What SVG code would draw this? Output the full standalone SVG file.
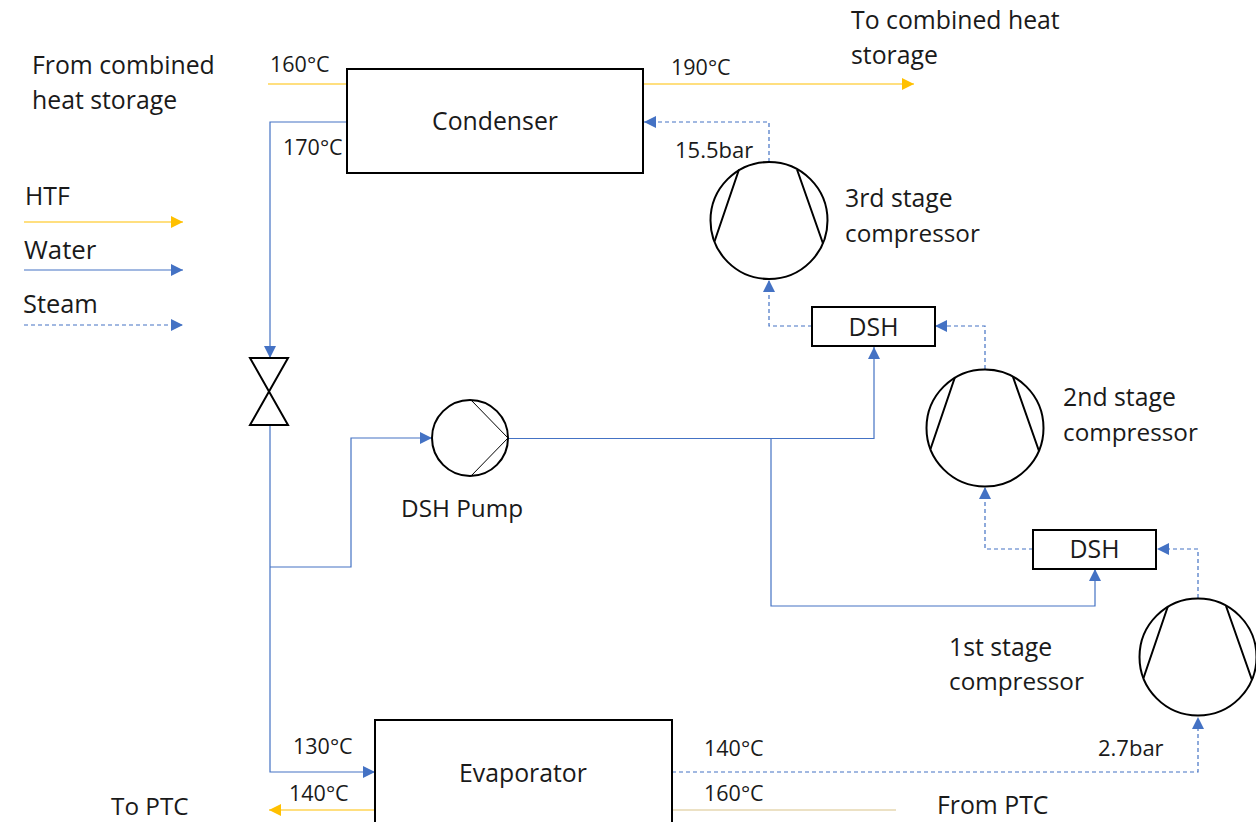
<svg xmlns="http://www.w3.org/2000/svg" width="1256" height="822" viewBox="0 0 1256 822">
<style>
text{font-family:"Open Sans","Noto Sans","Liberation Sans",sans-serif;fill:#1a1a1a}
.l{font-size:24.800px}.c{font-size:24.300px}.s{font-size:21.500px}
.box{fill:#fff;stroke:#000;stroke-width:2}
.sym{fill:none;stroke:#000;stroke-width:2}
.w{fill:none;stroke:#4472c4;stroke-width:1.2}
.st{fill:none;stroke:#4472c4;stroke-width:1.2;stroke-dasharray:4 3}
.h{fill:none;stroke:#ffc000;stroke-width:1.2}
</style>
<defs>
<marker id="ab" markerUnits="userSpaceOnUse" markerWidth="13" markerHeight="13" refX="12" refY="6" orient="auto"><path d="M0 0L12 6L0 12z" fill="#4472c4"/></marker>
<marker id="ay" markerUnits="userSpaceOnUse" markerWidth="13" markerHeight="13" refX="12" refY="6" orient="auto"><path d="M0 0L12 6L0 12z" fill="#ffc000"/></marker>
<g id="comp"><circle r="58.500" fill="#fff" stroke="#000" stroke-width="2"/><path class="sym" d="M-30-51L-54.500 21M28-51L54 23"/></g>
</defs>
<g id="connectors">
<path class="h" d="M268 84H347"/>
<path class="h" d="M643 84H914" marker-end="url(#ay)"/>
<path class="h" d="M375 810H269" marker-end="url(#ay)"/>
<path class="h" d="M672 810H896" style="stroke:#d9c48a"/>
<path class="h" d="M24 222H183" marker-end="url(#ay)"/>
<path class="w" d="M24 270H183" marker-end="url(#ab)"/>
<path class="st" d="M24 325H183" marker-end="url(#ab)"/>
<path class="w" d="M347 122H270V358" marker-end="url(#ab)"/>
<path class="w" d="M270 425V772H375" marker-end="url(#ab)"/>
<path class="w" d="M270 567H351V438H432" marker-end="url(#ab)"/>
<path class="w" d="M508 438.500H874V347" marker-end="url(#ab)"/>
<path class="w" d="M771 439V606H1095V569" marker-end="url(#ab)"/>
<path class="st" d="M769 162V122H644" marker-end="url(#ab)"/>
<path class="st" d="M812 326H769V280" marker-end="url(#ab)"/>
<path class="st" d="M985 369V326H935" marker-end="url(#ab)"/>
<path class="st" d="M1033 549H985V487" marker-end="url(#ab)"/>
<path class="st" d="M1198 598V549H1157" marker-end="url(#ab)"/>
<path class="st" d="M672 772H1198V717" marker-end="url(#ab)"/>
</g>
<g id="condenser"><rect class="box" x="347" y="69" width="296" height="104"/><text class="l" x="495" y="130" text-anchor="middle">Condenser</text></g>
<g id="evaporator"><rect class="box" x="375" y="720" width="297" height="110"/><text class="l" x="523" y="782" text-anchor="middle">Evaporator</text></g>
<g id="dsh-upper"><rect class="box" x="812" y="307" width="123" height="39"/><text class="l" x="873.500" y="336" text-anchor="middle">DSH</text></g>
<g id="dsh-lower"><rect class="box" x="1033" y="530" width="123" height="39"/><text class="l" x="1094.500" y="558" text-anchor="middle">DSH</text></g>
<g id="compressor-3"><use href="#comp" x="769" y="220.500"/></g>
<g id="compressor-2"><use href="#comp" x="985" y="428"/></g>
<g id="compressor-1"><use href="#comp" x="1198" y="657"/></g>
<g id="valve"><path class="sym" d="M250 358H288L250 425H288z"/></g>
<g id="pump"><circle cx="470" cy="438" r="38" fill="#fff" stroke="#000" stroke-width="2"/><path d="M471 400L508 438L471 476" fill="none" stroke="#000"/></g>
<g id="labels">
<text class="l" x="32" y="74">From combined</text><text class="l" x="32" y="109">heat storage</text>
<text class="l" x="851" y="29">To combined heat</text><text class="l" x="851" y="64">storage</text>
<text class="l" x="25" y="205">HTF</text><text class="l" x="24" y="259" style="font-size:25.800px">Water</text><text class="l" x="23" y="313" style="font-size:25.400px">Steam</text>
<text class="l" x="845" y="207">3rd stage</text><text class="c" x="845" y="242">compressor</text>
<text class="l" x="1063" y="406">2nd stage</text><text class="c" x="1063" y="441">compressor</text>
<text class="l" x="949" y="656">1st stage</text><text class="c" x="949" y="690">compressor</text>
<text class="c" x="401" y="517">DSH Pump</text>
<text class="c" x="111" y="815">To PTC</text><text class="l" x="937" y="814">From PTC</text>
<text class="s" x="270" y="72">160°C</text><text class="s" x="671" y="75">190°C</text><text class="s" x="283" y="155">170°C</text>
<text class="s" x="675" y="158" style="font-size:22px">15.5bar</text><text class="s" x="293" y="754">130°C</text><text class="s" x="289" y="801">140°C</text>
<text class="s" x="704" y="756">140°C</text><text class="s" x="704" y="801">160°C</text><text class="s" x="1098" y="756" style="font-size:22px">2.7bar</text>
</g>
</svg>
